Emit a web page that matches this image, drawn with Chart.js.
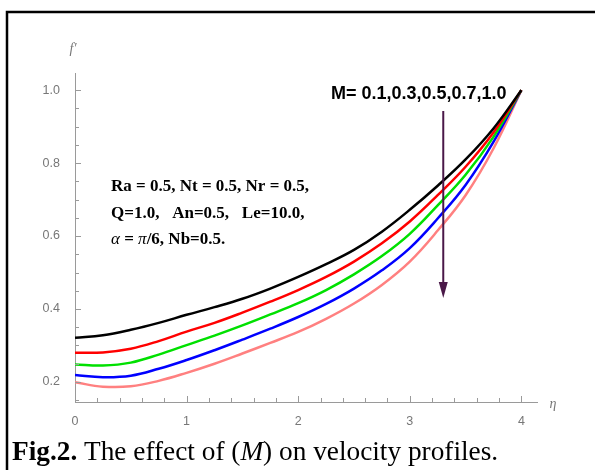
<!DOCTYPE html>
<html>
<head>
<meta charset="utf-8">
<script src="https://cdn.jsdelivr.net/npm/chart.js@4/dist/chart.umd.min.js"></script>
<style>
  html, body { margin: 0; padding: 0; background: #fff; }
  #wrap { width: 595px; height: 470px; }
</style>
</head>
<body>
<div id="wrap"><canvas id="c" width="595" height="470"></canvas></div>
<script>
// eta values where the curves were read
const eta = [0, 0.25, 0.5, 0.75, 1, 1.25, 1.5, 1.75, 2, 2.25, 2.5, 2.75, 3, 3.25, 3.5, 3.75, 4]

// f'(eta) for M = 0.1, 0.3, 0.5, 0.7, 1.0
const fM01 = [0.321, 0.328, 0.343, 0.362, 0.384, 0.405, 0.428, 0.456, 0.488, 0.523, 0.562, 0.612, 0.672, 0.738, 0.810, 0.895, 1.0]
const fM03 = [0.280, 0.281, 0.291, 0.312, 0.338, 0.362, 0.390, 0.420, 0.452, 0.488, 0.530, 0.580, 0.640, 0.712, 0.790, 0.884, 1.0]
const fM05 = [0.248, 0.245, 0.253, 0.275, 0.301, 0.327, 0.355, 0.385, 0.416, 0.452, 0.495, 0.545, 0.606, 0.684, 0.768, 0.872, 1.0]
const fM07 = [0.219, 0.213, 0.217, 0.236, 0.260, 0.287, 0.316, 0.346, 0.378, 0.414, 0.456, 0.506, 0.567, 0.648, 0.740, 0.858, 1.0]
const fM10 = [0.199, 0.187, 0.188, 0.203, 0.225, 0.250, 0.278, 0.307, 0.337, 0.373, 0.415, 0.466, 0.530, 0.615, 0.712, 0.840, 1.0]

const seriesList = [fM01, fM03, fM05, fM07, fM10]
const seriesColors = ['#000000', '#ff0000', '#00e000', '#0000ff', '#ff8080']
const seriesNames = ['M=0.1', 'M=0.3', 'M=0.5', 'M=0.7', 'M=1.0']

// tick labels
const xTicks = [0, 1, 2, 3, 4]
const yTicks = [0.2, 0.4, 0.6, 0.8, 1.0]

const AXIS_GRAY = '#9a9a9a'
const LABEL_GRAY = '#777777'

// Inner tick marks (major + minor) drawn on top of the axes
const innerTicks = {
  id: 'innerTicks',
  afterDraw(chart) {
    const { ctx, chartArea, scales } = chart
    const xs = scales.x, ys = scales.y
    ctx.save()
    ctx.strokeStyle = AXIS_GRAY
    ctx.lineWidth = 1
    ctx.beginPath()
    for (let v = 0; v <= 4.001; v += 0.2) {
      const px = Math.round(xs.getPixelForValue(v)) + 0.5
      const major = Math.abs(v - Math.round(v)) < 0.01
      ctx.moveTo(px, chartArea.bottom)
      ctx.lineTo(px, chartArea.bottom - (major ? 6 : 4))
    }
    for (let v = 0.15; v <= 1.0001; v += 0.05) {
      const py = Math.round(ys.getPixelForValue(v)) + 0.5
      const major = Math.abs(v * 5 - Math.round(v * 5)) < 0.01
      ctx.moveTo(chartArea.left, py)
      ctx.lineTo(chartArea.left + (major ? 6 : 4), py)
    }
    ctx.stroke()
    ctx.restore()
  }
}

// Axis names, annotation, arrow, frame and caption
const decorations = {
  id: 'decorations',
  afterDraw(chart) {
    const { ctx } = chart
    ctx.save()

    // frame
    ctx.strokeStyle = '#000'
    ctx.lineWidth = 2.5
    ctx.beginPath()
    ctx.moveTo(7, 472)
    ctx.lineTo(7, 12)
    ctx.lineTo(597, 12)
    ctx.stroke()

    // axis names
    ctx.fillStyle = LABEL_GRAY
    ctx.font = 'italic 14px "Liberation Serif", serif'
    ctx.textBaseline = 'middle'
    ctx.textAlign = 'center'
    ctx.fillText('f\u2032', 73, 49)
    ctx.fillText('\u03B7', 553, 404)

    // M annotation: a narrow bold face, squeezed horizontally to ~178px
    ctx.fillStyle = '#000'
    ctx.textAlign = 'left'
    ctx.textBaseline = 'alphabetic'
    const mText = 'M= 0.1,0.3,0.5,0.7,1.0'
    ctx.font = 'bold 18px "Liberation Sans", sans-serif'
    const sx = 178 / ctx.measureText(mText).width
    ctx.save()
    ctx.translate(331, 99)
    ctx.scale(Math.min(sx, 1), 1)
    ctx.fillText(mText, 0, 0)
    ctx.restore()

    // arrow
    const ax = chart.scales.x.getPixelForValue(3.3)
    ctx.strokeStyle = '#4a1848'
    ctx.fillStyle = '#4a1848'
    ctx.lineWidth = 2
    ctx.beginPath()
    ctx.moveTo(ax, 111)
    ctx.lineTo(ax, 286)
    ctx.stroke()
    ctx.beginPath()
    ctx.moveTo(ax - 4.5, 282)
    ctx.lineTo(ax + 4.5, 282)
    ctx.lineTo(ax, 298)
    ctx.closePath()
    ctx.fill()

    // parameter block
    const P = 17
    ctx.fillStyle = '#000'
    ctx.font = `bold ${P}px "Liberation Serif", serif`
    ctx.fillText('Ra = 0.5, Nt = 0.5, Nr = 0.5,', 111, 191)
    ctx.fillText('Q=1.0,   An=0.5,   Le=10.0,', 111, 218)
    let x = 111
    const parts = [
      [`italic ${P}px "Liberation Serif", serif`, '\u03B1'],
      [`bold ${P}px "Liberation Serif", serif`, ' = '],
      [`italic ${P}px "Liberation Serif", serif`, '\u03C0'],
      [`bold ${P}px "Liberation Serif", serif`, '/6, Nb=0.5.']
    ]
    for (const [f, t] of parts) {
      ctx.font = f
      ctx.fillText(t, x, 244)
      x += ctx.measureText(t).width
    }

    // caption
    const C = 27.3
    x = 12
    const cap = [
      [`bold ${C}px "Liberation Serif", serif`, 'Fig.2.'],
      [`${C}px "Liberation Serif", serif`, ' The effect of ('],
      [`italic ${C}px "Liberation Serif", serif`, 'M'],
      [`${C}px "Liberation Serif", serif`, ') on velocity profiles.']
    ]
    for (const [f, t] of cap) {
      ctx.font = f
      ctx.fillText(t, x, 460)
      x += ctx.measureText(t).width
    }
    ctx.restore()
  }
}

new Chart(document.getElementById('c'), {
  type: 'line',
  data: {
    datasets: seriesList.map((s, i) => ({
      label: seriesNames[i],
      data: eta.map((e, j) => ({ x: e, y: s[j] })),
      borderColor: seriesColors[i],
      borderWidth: 2.5,
      pointRadius: 0,
      fill: false,
      tension: 0.4
    }))
  },
  options: {
    animation: false,
    responsive: false,
    events: [],
    layout: { padding: { top: 73, right: 58, left: 0, bottom: 0 } },
    plugins: {
      legend: { display: false },
      tooltip: { enabled: false }
    },
    scales: {
      x: {
        type: 'linear',
        min: 0,
        max: 4.14,
        afterBuildTicks: (scale) => { scale.ticks = xTicks.map(v => ({ value: v })) },
        afterFit: (scale) => { scale.height = 68 },
        grid: { display: false },
        border: { display: true, color: AXIS_GRAY, width: 1 },
        ticks: {
          color: LABEL_GRAY,
          font: { family: 'Liberation Sans', size: 12.5 },
          padding: 4,
          maxRotation: 0,
          callback: (v) => String(v)
        }
      },
      y: {
        type: 'linear',
        min: 0.145,
        max: 1.047,
        afterBuildTicks: (scale) => { scale.ticks = yTicks.map(v => ({ value: v })) },
        afterFit: (scale) => { scale.width = 75 },
        grid: { display: false },
        border: { display: true, color: AXIS_GRAY, width: 1 },
        ticks: {
          color: LABEL_GRAY,
          font: { family: 'Liberation Sans', size: 12.5 },
          padding: 7,
          callback: (v) => v.toFixed(1)
        }
      }
    }
  },
  plugins: [innerTicks, decorations]
})
</script>
</body>
</html>
